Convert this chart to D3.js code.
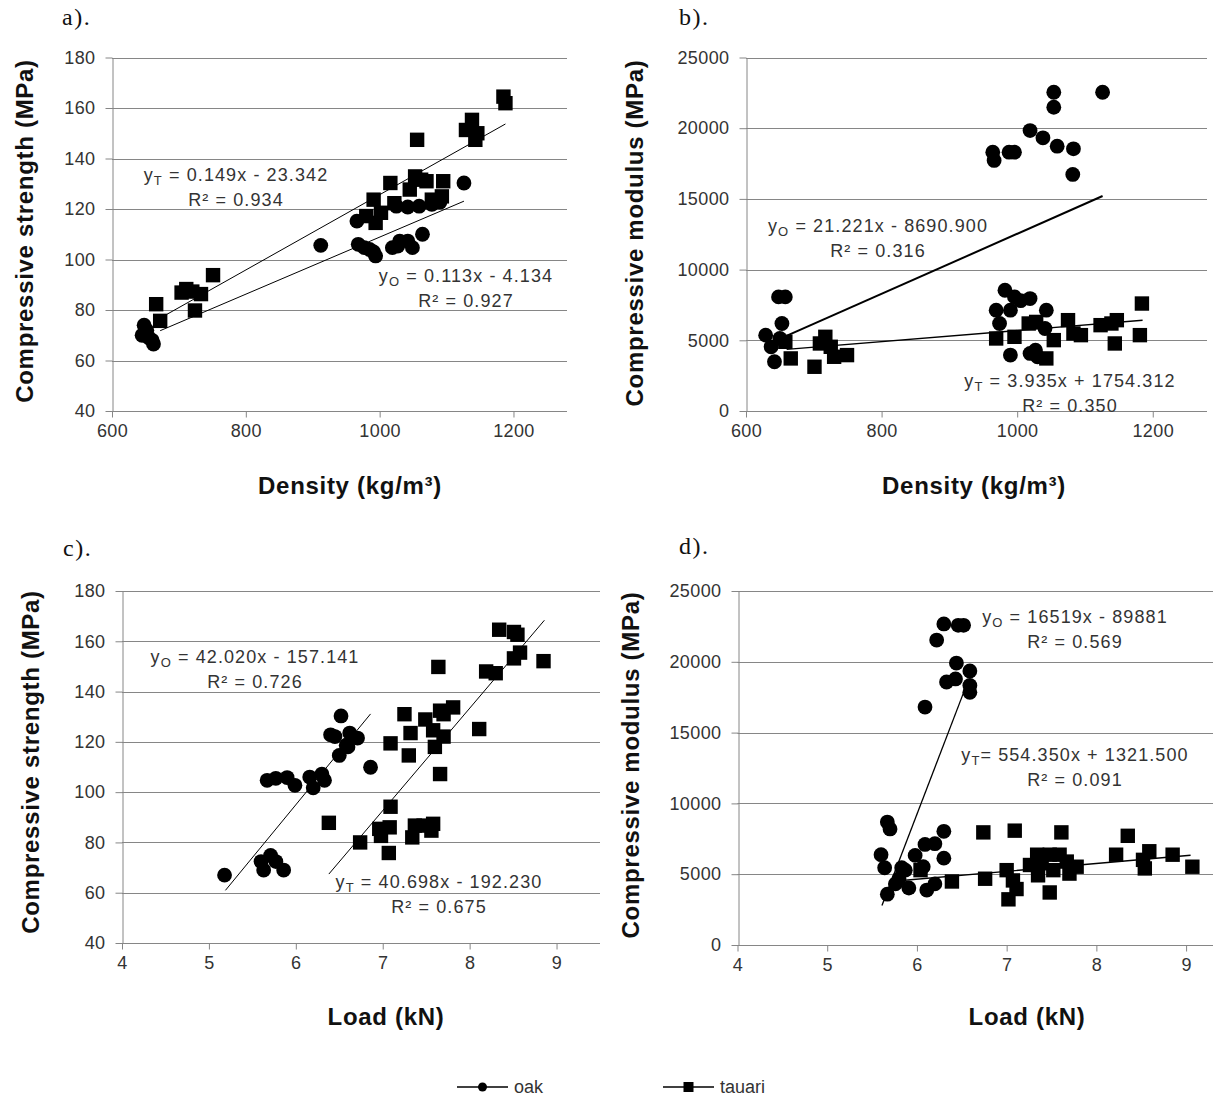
<!DOCTYPE html>
<html>
<head>
<meta charset="utf-8">
<script src="https://cdn.jsdelivr.net/npm/d3@7"></script>
<style>
  body { margin: 0; background: #fff; }
  svg text { font-family: "Liberation Sans", Arial, sans-serif; }
  .tick text { fill: #333; font-size: 18px; letter-spacing: 0.4px; }
  .axis path, .axis line { stroke: #868686; }
  .grid line { stroke: #868686; stroke-width: 1; }
  .title { font-weight: bold; font-size: 24px; letter-spacing: 0.7px; fill: #111; }
  .plabel { font-family: "Liberation Serif", "Times New Roman", serif !important; font-size: 24px; letter-spacing: 1.5px; fill: #111; }
  .eq { font-size: 18px; letter-spacing: 1.1px; fill: #333; }
</style>
</head>
<body>
<svg id="fig" width="1213" height="1099"></svg>
<script>
// ticks
var densityTicks  = [600, 800, 1000, 1200],
    loadTicks     = [4, 5, 6, 7, 8, 9],
    strengthTicks = [40, 60, 80, 100, 120, 140, 160, 180],
    modulusTicks  = [0, 5000, 10000, 15000, 20000, 25000]

// a) density vs compressive strength
var densStrOak = [
  [645, 70], [648, 74], [652, 72], [655, 69], [660, 68], [662, 66.5],
  [912, 105.6], [966, 115.2], [968, 106], [977, 104.7], [985, 104], [991, 103], [994, 101.4],
  [1019, 104.7], [1027, 105.3], [1030, 107.3], [1042, 107.3], [1049, 104.7], [1064, 110],
  [1025, 121.1], [1042, 120.8], [1059, 121.1], [1078, 121.8], [1090, 122.7], [1126, 130.3]
]
var densStrTauari = [
  [666, 82.3], [672, 75.7], [704, 86.9], [711, 88.3], [720, 87.3], [724, 79.8], [733, 86.3], [751, 93.8],
  [980, 117.2], [991, 123.7], [994, 114.5], [1002, 118.5], [1016, 130.3], [1022, 122.3], [1045, 127.7],
  [1053, 132.9], [1056, 147.4], [1062, 131.6], [1070, 131], [1078, 123.7], [1093, 125], [1095, 131],
  [1129, 151.3], [1138, 155.3], [1146, 150], [1143, 147.4], [1185, 164.5], [1188, 161.9]
]
// b) density vs compressive modulus
var densModOak = [
  [1054, 22541], [1054, 21482], [1126, 22541], [1019, 19835], [1038, 19318], [964, 18306], [966, 17718],
  [988, 18306], [996, 18306], [1059, 18729], [1083, 18541], [1082, 16729],
  [629, 5365], [637, 4541], [642, 3482], [653, 6188], [648, 8071], [658, 8071], [650, 5129],
  [982, 8541], [969, 7129], [974, 6188], [990, 7129], [996, 8071], [1019, 7953], [990, 3953],
  [1019, 4071], [1027, 4306], [1030, 3835], [1043, 7129], [1041, 5835], [1005, 7800]
]
var densModTauari = [
  [658, 4894], [666, 3718], [701, 3129], [709, 4776], [717, 5247], [725, 4541], [730, 3835], [749, 3953],
  [969, 5129], [996, 5247], [1017, 6188], [1028, 6300], [1043, 3718], [1054, 5012], [1075, 6424],
  [1083, 5482], [1094, 5365], [1123, 6071], [1139, 6188], [1147, 6424], [1144, 4776], [1184, 7600], [1181, 5365]
]
// c) load vs compressive strength
var loadStrOak = [
  [5.18, 67], [5.60, 72.4], [5.71, 74.8], [5.63, 69], [5.77, 72.4], [5.86, 69],
  [5.67, 104.7], [5.77, 105.5], [5.90, 105.8], [5.99, 102.7], [6.16, 106], [6.20, 101.7], [6.30, 107.2],
  [6.33, 104.7], [6.40, 122.8], [6.45, 122.1], [6.50, 114.6], [6.52, 130.3], [6.62, 123.5], [6.60, 118],
  [6.71, 121.5], [6.86, 109.9], [6.58, 118.7]
]
var loadStrTauari = [
  [6.38, 87.8], [6.74, 80], [6.96, 85.4], [6.98, 82.6], [7.08, 86], [7.09, 94.2], [7.07, 75.8], [7.09, 119.4],
  [7.25, 131], [7.32, 123.5], [7.30, 114.6], [7.34, 82], [7.37, 86.7], [7.47, 86.7], [7.56, 84.7], [7.58, 87.4],
  [7.49, 128.9], [7.58, 124.6], [7.60, 118], [7.64, 149.8], [7.66, 132.4], [7.70, 131], [7.66, 107.2],
  [7.70, 122.1], [7.81, 133.7], [8.11, 125.1], [8.19, 148], [8.30, 147.3], [8.34, 164.6], [8.51, 163.7],
  [8.51, 153.2], [8.58, 155.5], [8.85, 152.1], [8.55, 162.6]
]
// d) load vs compressive modulus
var loadModOak = [
  [6.30, 22672], [6.52, 22575], [6.46, 22575], [6.22, 21532], [6.44, 19908], [6.59, 19350], [6.33, 18574],
  [6.43, 18792], [6.59, 18332], [6.59, 17847], [6.09, 16804],
  [5.60, 6377], [5.67, 8681], [5.70, 8196], [5.64, 5456], [5.67, 3589], [5.76, 4316], [5.83, 5456],
  [5.87, 5286], [5.91, 4025], [5.98, 6329], [6.09, 7105], [6.20, 7153], [6.30, 8026], [6.30, 6135],
  [6.07, 5528], [6.11, 3880], [6.20, 4316], [5.80, 4680]
]
var loadModTauari = [
  [6.04, 5286], [6.39, 4486], [6.74, 7953], [6.76, 4680], [7.00, 5286], [7.02, 3225], [7.09, 8075],
  [7.11, 3952], [7.07, 4560], [7.34, 6377], [7.35, 4922], [7.39, 5771], [7.48, 3710], [7.48, 6377],
  [7.52, 5286], [7.59, 6377], [7.61, 7953], [7.67, 5892], [7.70, 5043], [7.78, 5528], [7.26, 5650],
  [8.22, 6377], [8.35, 7711], [8.52, 6014], [8.54, 5407], [8.59, 6620], [8.85, 6377], [9.07, 5528]
]

// trend lines: [slope, intercept, xStart, xEnd]
var densStrTrendOak    = [0.113, -4.134, 672, 1126],
    densStrTrendTauari = [0.149, -23.342, 665, 1188],
    densModTrendOak    = [21.221, -8690.900, 658, 1126],
    densModTrendTauari = [3.935, 1754.312, 660, 1185],
    loadStrTrendOak    = [42.020, -157.141, 5.19, 6.86],
    loadStrTrendTauari = [40.698, -192.230, 6.38, 8.86],
    loadModTrendOak    = [16519, -89881, 5.61, 6.52],
    loadModTrendTauari = [554.350, 1321.500, 5.8, 9.05]

var svg = d3.select("#fig")

function drawPanel(p) { //{{{
  var x = d3.scaleLinear().domain(p.xdom).range(p.xr),
      y = d3.scaleLinear().domain(p.ydom).range(p.yr)

  var g = svg.append("g")

  g.append("g").attr("class", "grid")
    .selectAll("line").data(p.yticks.slice(1)).join("line")
    .attr("x1", p.xr[0]).attr("x2", p.xr[1])
    .attr("y1", d => Math.round(y(d)) + 0.5).attr("y2", d => Math.round(y(d)) + 0.5)

  g.append("g").attr("class", "axis")
    .attr("transform", "translate(0," + (Math.round(p.yr[0]) + 0.5) + ")")
    .call(d3.axisBottom(x).tickValues(p.xticks).tickFormat(d3.format("d"))
      .tickSize(6).tickPadding(7).tickSizeOuter(0))
    .call(a => a.select(".domain").attr("d", "M" + p.xr[0] + ",0H" + p.xr[1]))

  g.append("g").attr("class", "axis")
    .attr("transform", "translate(" + (Math.round(p.xr[0]) + 0.5) + ",0)")
    .call(d3.axisLeft(y).tickValues(p.yticks).tickFormat(d3.format("d"))
      .tickSize(7).tickPadding(10).tickSizeOuter(0))

  var line = d3.line().x(d => x(d[0])).y(d => y(d[1]))
  p.trends.forEach((t, i) => {
    g.append("path")
      .datum([[t[2], t[0] * t[2] + t[1]], [t[3], t[0] * t[3] + t[1]]])
      .attr("fill", "none").attr("stroke", "#000")
      .attr("stroke-width", p.trendWidth[i])
      .attr("d", line)
  })

  g.append("g").selectAll("circle").data(p.oak).join("circle")
    .attr("cx", d => x(d[0])).attr("cy", d => y(d[1])).attr("r", 7.4)
    .attr("fill", "#000")

  g.append("g").selectAll("rect").data(p.tauari).join("rect")
    .attr("x", d => x(d[0]) - 7.2).attr("y", d => y(d[1]) - 7.2)
    .attr("width", 14.4).attr("height", 14.4).attr("fill", "#000")

  g.append("text").attr("class", "plabel")
    .attr("x", p.label[1]).attr("y", p.label[2]).text(p.label[0])

  g.append("text").attr("class", "title")
    .attr("x", p.xtitle[1]).attr("y", p.xtitle[2]).attr("text-anchor", "middle")
    .text(p.xtitle[0])

  g.append("text").attr("class", "title")
    .attr("transform", "translate(" + p.ytitle[1] + "," + p.ytitle[2] + ") rotate(-90)")
    .attr("text-anchor", "middle")
    .text(p.ytitle[0])

  p.eqs.forEach(e => {
    var t = g.append("text").attr("class", "eq")
      .attr("x", e.x).attr("y", e.y).attr("text-anchor", "middle")
    t.append("tspan").text("y")
    t.append("tspan").attr("font-size", 13).attr("dy", 4).text(e.sub)
    t.append("tspan").attr("dy", -4).text(e.rest)
    g.append("text").attr("class", "eq")
      .attr("x", e.x).attr("y", e.y + 25).attr("text-anchor", "middle")
      .text(e.r2)
  })
} //}}}

var densityTitle = "Density (kg/m\u00b3)"

drawPanel({
  xdom: [600, 1280], xr: [112, 567], ydom: [40, 180], yr: [411, 57.5],
  xticks: densityTicks, yticks: strengthTicks,
  oak: densStrOak, tauari: densStrTauari,
  trends: [densStrTrendOak, densStrTrendTauari], trendWidth: [1, 1],
  label: ["a).", 62, 25],
  xtitle: [densityTitle, 350, 494],
  ytitle: ["Compressive strength (MPa)", 33, 231],
  eqs: [
    { x: 236, y: 181, sub: "T", rest: " = 0.149x - 23.342", r2: "R\u00b2 = 0.934" },
    { x: 466, y: 282, sub: "O", rest: " = 0.113x - 4.134", r2: "R\u00b2 = 0.927" }
  ]
})

drawPanel({
  xdom: [600, 1280], xr: [746, 1207], ydom: [0, 25000], yr: [411, 57.5],
  xticks: densityTicks, yticks: modulusTicks,
  oak: densModOak, tauari: densModTauari,
  trends: [densModTrendOak, densModTrendTauari], trendWidth: [2, 1.3],
  label: ["b).", 679, 25],
  xtitle: [densityTitle, 974, 494],
  ytitle: ["Compressive modulus (MPa)", 643, 233],
  eqs: [
    { x: 878, y: 232, sub: "O", rest: " = 21.221x - 8690.900", r2: "R\u00b2 = 0.316" },
    { x: 1070, y: 387, sub: "T", rest: " = 3.935x + 1754.312", r2: "R\u00b2 = 0.350" }
  ]
})

drawPanel({
  xdom: [4, 9.5], xr: [122, 600], ydom: [40, 180], yr: [943, 591],
  xticks: loadTicks, yticks: strengthTicks,
  oak: loadStrOak, tauari: loadStrTauari,
  trends: [loadStrTrendOak, loadStrTrendTauari], trendWidth: [1, 1],
  label: ["c).", 63, 556],
  xtitle: ["Load (kN)", 386, 1025],
  ytitle: ["Compressive strength (MPa)", 39, 762],
  eqs: [
    { x: 255, y: 663, sub: "O", rest: " = 42.020x - 157.141", r2: "R\u00b2 = 0.726" },
    { x: 439, y: 888, sub: "T", rest: " = 40.698x - 192.230", r2: "R\u00b2 = 0.675" }
  ]
})

drawPanel({
  xdom: [4, 9.3], xr: [737.5, 1213], ydom: [0, 25000], yr: [945, 591],
  xticks: loadTicks, yticks: modulusTicks,
  oak: loadModOak, tauari: loadModTauari,
  trends: [loadModTrendOak, loadModTrendTauari], trendWidth: [1.3, 1.3],
  label: ["d).", 679, 554],
  xtitle: ["Load (kN)", 1027, 1025],
  ytitle: ["Compressive modulus (MPa)", 639, 765],
  eqs: [
    { x: 1075, y: 623, sub: "O", rest: " = 16519x - 89881", r2: "R\u00b2 = 0.569" },
    { x: 1075, y: 761, sub: "T", rest: "= 554.350x + 1321.500", r2: "R\u00b2 = 0.091" }
  ]
})

// legend
var legendItems = ["oak", "tauari"]
var lg = svg.append("g").attr("transform", "translate(0,1087)")
legendItems.forEach((name, i) => {
  var x0 = i == 0 ? 457 : 663
  lg.append("line").attr("x1", x0).attr("x2", x0 + 51).attr("y1", 0).attr("y2", 0)
    .attr("stroke", "#000").attr("stroke-width", 1.3)
  if(i == 0)
    lg.append("circle").attr("cx", x0 + 25.5).attr("cy", 0).attr("r", 4.5).attr("fill", "#000")
  else
    lg.append("rect").attr("x", x0 + 20.5).attr("y", -5).attr("width", 10).attr("height", 10).attr("fill", "#000")
  lg.append("text").attr("x", x0 + 57).attr("y", 6).attr("font-size", 18).attr("fill", "#333").text(name)
})
</script>
</body>
</html>
